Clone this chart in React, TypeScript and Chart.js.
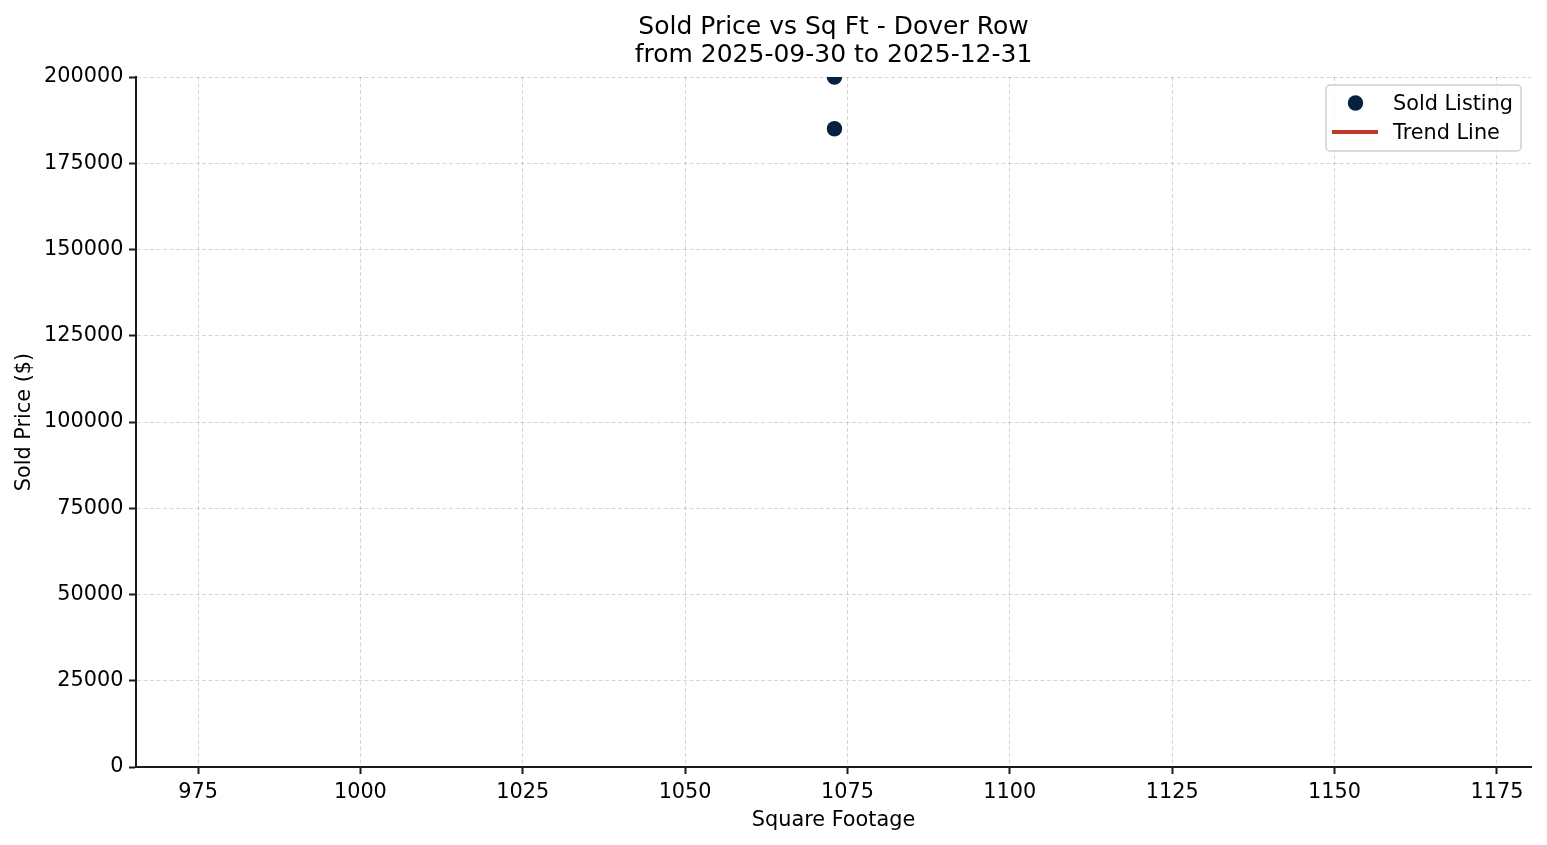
import { useEffect, useRef } from "react";
import { Chart, registerables, Plugin } from "chart.js";

Chart.register(...registerables);

// data
const SQFT = [1073, 1073];
const SOLD_PRICE = [200000, 185000];
const TREND_X: number[] = []; // both sales share one sq ft, so no fit can be drawn
const TREND_Y: number[] = [];
const X_TICKS = [975, 1000, 1025, 1050, 1075, 1100, 1125, 1150, 1175];
const Y_TICKS = [0, 25000, 50000, 75000, 100000, 125000, 150000, 175000, 200000];
const TITLE_LINES = ["Sold Price vs Sq Ft - Dover Row", "from 2025-09-30 to 2025-12-31"];

const FONT = "'DejaVu Sans', sans-serif";
const TEXT_SIZE = 20.8;
const NAVY = "#06203f";
const RED = "#c0392b";
const SPINE = "#1a1a1a";

// title centred over the plot area, like matplotlib does
const titlePlugin: Plugin = {
  id: "twoLineTitle",
  afterDraw(chart) {
    const { ctx, chartArea } = chart;
    const cx = (chartArea.left + chartArea.right) / 2;
    ctx.save();
    ctx.font = `25px ${FONT}`;
    ctx.fillStyle = "#000";
    ctx.textAlign = "center";
    ctx.textBaseline = "alphabetic";
    ctx.fillText(TITLE_LINES[0], cx, 34);
    ctx.fillText(TITLE_LINES[1], cx, 62);
    ctx.restore();
  },
};

// legend box in the upper right corner of the axes
const legendPlugin: Plugin = {
  id: "cornerLegend",
  afterDraw(chart) {
    const { ctx, chartArea } = chart;
    const ds = chart.data.datasets as any[];
    const w = 195;
    const h = 66;
    const x = chartArea.right - 10 - w;
    const y = chartArea.top + 8;
    ctx.save();
    ctx.beginPath();
    ctx.roundRect(x, y, w, h, 4);
    ctx.fillStyle = "rgba(255,255,255,0.8)";
    ctx.fill();
    ctx.lineWidth = 1.5;
    ctx.strokeStyle = "#d0d0d0";
    ctx.stroke();

    ctx.font = `${TEXT_SIZE}px ${FONT}`;
    ctx.textAlign = "left";
    ctx.textBaseline = "alphabetic";
    ds.forEach((d, i) => {
      const rowY = y + 18 + i * 29;
      if (d.type === "line") {
        ctx.beginPath();
        ctx.moveTo(x + 6, rowY);
        ctx.lineTo(x + 52, rowY);
        ctx.lineWidth = 4;
        ctx.strokeStyle = d.borderColor;
        ctx.stroke();
      } else {
        ctx.beginPath();
        ctx.arc(x + 29.5, rowY, 7.7, 0, Math.PI * 2);
        ctx.fillStyle = d.backgroundColor;
        ctx.fill();
      }
      ctx.fillStyle = "#000";
      ctx.fillText(d.label, x + 67, rowY + 6.5);
    });
    ctx.restore();
  },
};

export default function App() {
  const chartRef = useRef<HTMLCanvasElement>(null);
  const chartInstance = useRef<Chart | null>(null);

  useEffect(() => {
    document.body.style.margin = "0";
    if (!chartRef.current) return;
    const ctx = chartRef.current.getContext("2d");
    if (!ctx) return;

    if (chartInstance.current) chartInstance.current.destroy();

    chartInstance.current = new Chart(ctx, {
      type: "scatter",
      data: {
        datasets: [
          {
            type: "scatter",
            label: "Sold Listing",
            data: SQFT.map((x, i) => ({ x, y: SOLD_PRICE[i] })),
            backgroundColor: NAVY,
            borderWidth: 0,
            pointRadius: 7.7,
            pointHoverRadius: 7.7,
          },
          {
            type: "line",
            label: "Trend Line",
            data: TREND_X.map((x, i) => ({ x, y: TREND_Y[i] })),
            borderColor: RED,
            backgroundColor: RED,
            borderWidth: 4,
            pointRadius: 0,
          },
        ] as any,
      },
      options: {
        animation: false,
        responsive: true,
        maintainAspectRatio: false,
        layout: { padding: { top: 77, right: 16, left: 0, bottom: 0 } },
        plugins: {
          legend: { display: false },
          title: { display: false },
          tooltip: { enabled: false },
        },
        scales: {
          x: {
            type: "linear",
            min: 965.45,
            max: 1180.25,
            afterBuildTicks: (scale) => {
              scale.ticks = X_TICKS.map((value) => ({ value }));
            },
            afterFit: (scale) => {
              scale.height = 78;
            },
            ticks: {
              font: { family: FONT, size: TEXT_SIZE },
              color: "#000",
              padding: 6,
              maxRotation: 0,
              callback: (v) => String(v),
            },
            grid: {
              color: "rgba(0,0,0,0.16)",
              lineWidth: 1,
              tickLength: 7,
              tickColor: SPINE,
              tickWidth: 2,
            },
            border: { display: true, color: SPINE, width: 2, dash: [4, 2.5] },
            title: {
              display: true,
              text: "Square Footage",
              font: { family: FONT, size: TEXT_SIZE },
              color: "#000",
              padding: { top: 0, bottom: 12 },
            },
          },
          y: {
            type: "linear",
            min: 0,
            max: 200000,
            afterBuildTicks: (scale) => {
              scale.ticks = Y_TICKS.map((value) => ({ value }));
            },
            afterFit: (scale) => {
              scale.width = 136;
            },
            ticks: {
              font: { family: FONT, size: TEXT_SIZE },
              color: "#000",
              padding: 5.5,
              callback: (v) => String(v),
            },
            grid: {
              color: "rgba(0,0,0,0.16)",
              lineWidth: 1,
              tickLength: 7,
              tickColor: SPINE,
              tickWidth: 2,
            },
            border: { display: true, color: SPINE, width: 2, dash: [4, 2.5] },
            title: {
              display: true,
              text: "Sold Price ($)",
              font: { family: FONT, size: TEXT_SIZE },
              color: "#000",
              padding: { top: 12.5, bottom: 0 },
            },
          },
        },
      },
      plugins: [titlePlugin, legendPlugin],
    });

    return () => {
      if (chartInstance.current) {
        chartInstance.current.destroy();
        chartInstance.current = null;
      }
    };
  }, []);

  return (
    <div style={{ position: "relative", width: "1547px", height: "845px", background: "#fff" }}>
      <canvas ref={chartRef} />
    </div>
  );
}
